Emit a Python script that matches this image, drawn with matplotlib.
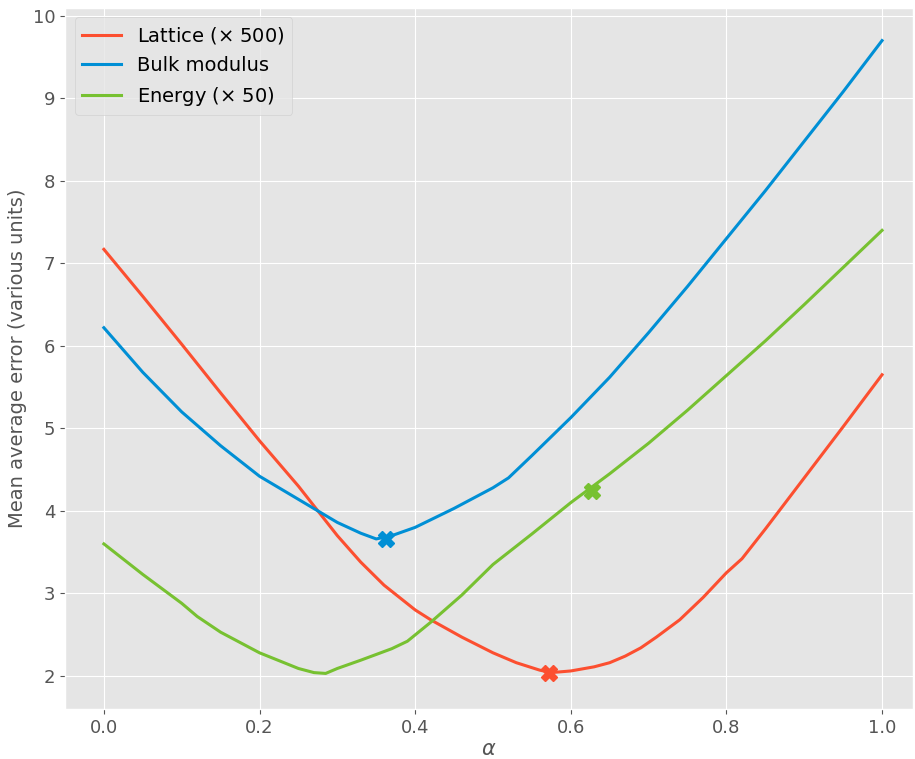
import matplotlib
matplotlib.use("Agg")
import matplotlib.pyplot as plt
import numpy as np

plt.style.use("ggplot")

alpha_lat = [0.0, 0.05, 0.1, 0.15, 0.2, 0.25, 0.3, 0.33, 0.36, 0.4, 0.42, 0.46, 0.5, 0.53, 0.56, 0.575, 0.6, 0.63, 0.65, 0.67, 0.69, 0.71, 0.74, 0.77, 0.8, 0.82, 0.85, 0.9, 0.95, 1.0]
lattice = [7.17, 6.6, 6.02, 5.43, 4.85, 4.3, 3.7, 3.38, 3.1, 2.8, 2.68, 2.47, 2.28, 2.16, 2.07, 2.04, 2.06, 2.11, 2.16, 2.24, 2.34, 2.47, 2.68, 2.95, 3.25, 3.42, 3.78, 4.4, 5.02, 5.65]

alpha_bulk = [0.0, 0.05, 0.1, 0.15, 0.2, 0.25, 0.3, 0.33, 0.35, 0.37, 0.4, 0.45, 0.5, 0.52, 0.55, 0.6, 0.65, 0.7, 0.75, 0.8, 0.85, 0.9, 0.95, 1.0]
bulk = [6.22, 5.68, 5.2, 4.79, 4.42, 4.14, 3.86, 3.73, 3.66, 3.7, 3.8, 4.03, 4.28, 4.4, 4.67, 5.13, 5.62, 6.16, 6.72, 7.3, 7.88, 8.48, 9.08, 9.7]

alpha_en = [0.0, 0.05, 0.1, 0.12, 0.15, 0.2, 0.25, 0.27, 0.285, 0.3, 0.33, 0.37, 0.39, 0.42, 0.46, 0.5, 0.55, 0.6, 0.65, 0.7, 0.75, 0.8, 0.85, 0.9, 0.95, 1.0]
energy = [3.6, 3.23, 2.88, 2.72, 2.53, 2.28, 2.09, 2.04, 2.03, 2.09, 2.19, 2.33, 2.42, 2.65, 2.98, 3.35, 3.72, 4.1, 4.45, 4.82, 5.22, 5.64, 6.06, 6.5, 6.95, 7.4]

labels = ["Lattice ($\\times$ 500)", "Bulk modulus", "Energy ($\\times$ 50)"]
colors = ["#fc4f30", "#008fd5", "#77c131"]

min_points = [(0.572, 2.04), (0.362, 3.66), (0.627, 4.24)]

fig, ax = plt.subplots(figsize=(9.15, 7.59), dpi=100)
series = [(alpha_lat, lattice), (alpha_bulk, bulk), (alpha_en, energy)]
for (xs, ys), lab, c, (mx, my) in zip(series, labels, colors, min_points):
    ax.plot(xs, ys, color=c, lw=2.2, label=lab)
    ax.plot([mx], [my], marker="X", color=c, ms=11, ls="none")

ax.set_xlabel(r"$\alpha$", fontsize=15, labelpad=2)
ax.set_ylabel("Mean average error (various units)", fontsize=14)
ax.tick_params(labelsize=13)
ax.set_xlim(-0.05, 1.04)
ax.set_ylim(1.6, 10.1)
leg = ax.legend(loc="upper left", fontsize=14, facecolor="#e5e5e5", framealpha=0.8)
fig.subplots_adjust(left=0.071, right=0.998, top=0.99, bottom=0.066)
fig.savefig("out.png")
